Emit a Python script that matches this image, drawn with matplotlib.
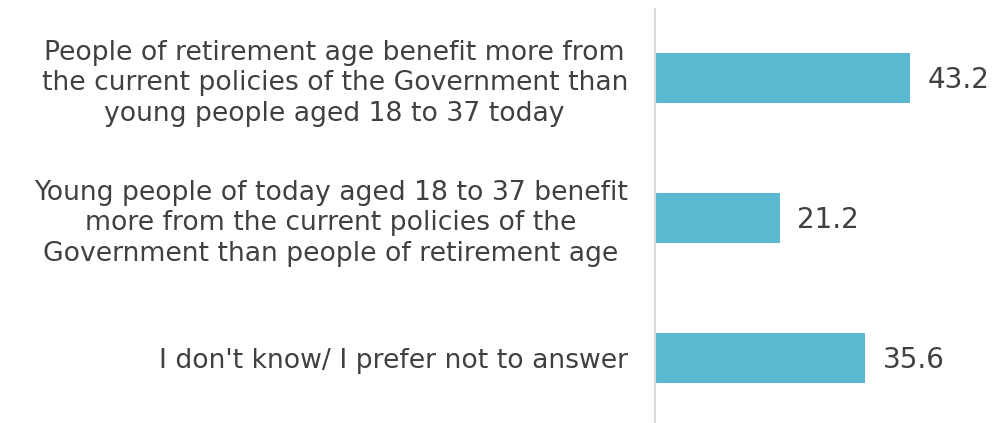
import matplotlib.pyplot as plt

categories = [
    "People of retirement age benefit more from\nthe current policies of the Government than\nyoung people aged 18 to 37 today",
    "Young people of today aged 18 to 37 benefit\nmore from the current policies of the\nGovernment than people of retirement age",
    "I don't know/ I prefer not to answer",
]
values = [43.2, 21.2, 35.6]

text_color = '#404040'
bar_color = '#5BB8D1'

fig = plt.figure(figsize=(9.92, 4.23), dpi=100)
ax = fig.add_axes([0.6603, 0.0, 0.3397, 0.9787])

pos = list(range(len(values)))
ax.barh(pos, values, height=0.357, color=bar_color)

for p, v in zip(pos, values):
    ax.text(v + 2.9, p + 0.015, f'{v:.1f}', va='center', ha='left', fontsize=20, color=text_color)

ax.set_xlim(0, 57)
ax.set_ylim(2.464, -0.493)
ax.set_yticks(pos)
ax.set_yticklabels(categories, fontsize=19.2, color=text_color, linespacing=1.22,
                   multialignment='center')
ax.tick_params(axis='y', length=0, pad=19.5)
ax.set_xticks([])

for side in ['top', 'right', 'bottom']:
    ax.spines[side].set_visible(False)
ax.spines['left'].set_color('#D9D9D9')
ax.spines['left'].set_linewidth(1.5)

fig.savefig('out.png', dpi=100)
